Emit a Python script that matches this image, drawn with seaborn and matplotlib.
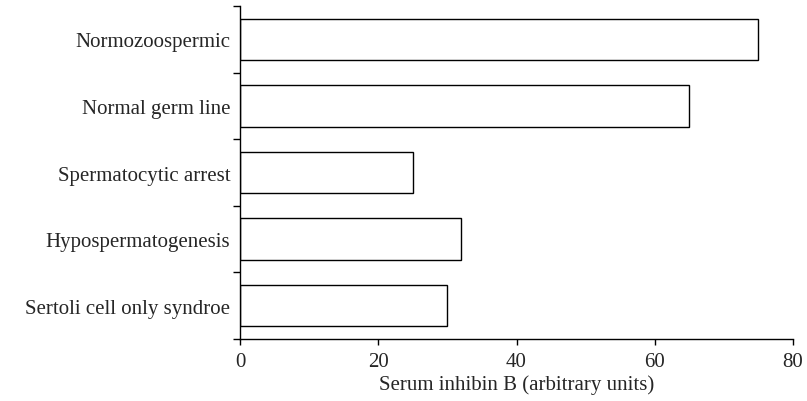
import numpy as np
import pandas as pd
import matplotlib
matplotlib.use("Agg")
import matplotlib.pyplot as plt
import seaborn as sns

# ------------------------
# data
# ------------------------
groups = [
    "Normozoospermic",
    "Normal germ line",
    "Spermatocytic arrest",
    "Hypospermatogenesis",
    "Sertoli cell only syndroe",
]
inhibin_b = [75, 65, 25, 32, 30]
x_ticks = [0, 20, 40, 60, 80]

df = pd.DataFrame({"group": groups, "value": inhibin_b})

sns.set_theme(style="ticks")
plt.rcParams["font.family"] = ["Liberation Serif", "DejaVu Serif"]

fs = 15

fig = plt.figure(figsize=(8.07, 4.02), dpi=100)
ax = fig.add_axes([0.2974, 0.1542, 0.6853, 0.8284])

sns.barplot(
    data=df, x="value", y="group", orient="h",
    color="white", edgecolor="black", linewidth=1.0,
    width=0.62, ax=ax,
)

ax.set_xlim(0, 80)
ax.set_ylim(len(groups) - 0.5, -0.5)
ax.set_xticks(x_ticks)
ax.set_xticklabels([str(t) for t in x_ticks], fontsize=fs)

# category labels at centres, tick marks at boundaries
ax.set_yticks(range(len(groups)))
ax.set_yticklabels(groups, fontsize=fs)
ax.tick_params(axis="y", which="major", length=0, pad=7)
ax.set_yticks(np.arange(-0.5, len(groups), 1.0), minor=True)
ax.tick_params(axis="y", which="minor", length=5, width=1.0, color="black")
ax.tick_params(axis="x", which="major", length=4, width=1.0, color="black", pad=5)

ax.set_xlabel("Serum inhibin B (arbitrary units)", fontsize=fs, labelpad=3)
ax.set_ylabel("")

sns.despine(ax=ax)
for side in ["left", "bottom"]:
    ax.spines[side].set_color("black")
    ax.spines[side].set_linewidth(1.0)

fig.savefig("out.png", dpi=100)
